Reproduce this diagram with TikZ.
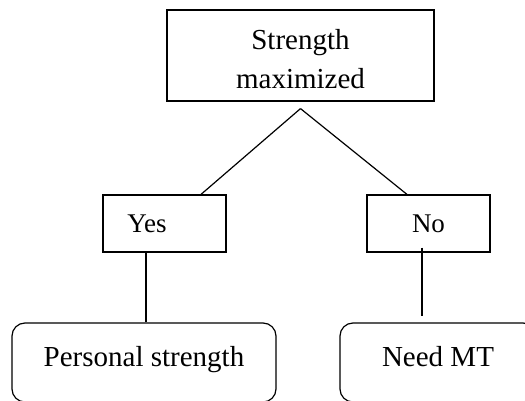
\documentclass[tikz,border=0pt]{standalone}
\usepackage{fontspec}
\setmainfont{Liberation Serif}
\usetikzlibrary{calc}
\begin{document}
\begin{tikzpicture}[x=1pt, y=-1pt, line width=1.2pt,
  box/.style={draw, rectangle, inner sep=0pt},
  rbox/.style={draw, rectangle, rounded corners=13pt, inner sep=0pt},
  bigtext/.style={font=\fontsize{29}{39}\selectfont},
  smalltext/.style={font=\fontsize{27}{32}\selectfont}]
\path[use as bounding box, clip] (0,0) rectangle (525,401);

% decision box
\node[box, minimum width=267pt, minimum height=91pt] (top) at (300.5,55.5) {};
\node[bigtext, align=center] (toplbl) at (300.5,59) {Strength\\maximized};

% answer boxes
\node[box, minimum width=123pt, minimum height=57pt] (yes) at (164.5,223.5) {};
\node[smalltext] (yeslbl) at (147,224) {Yes};
\node[box, smalltext, minimum width=123pt, minimum height=57pt] (no) at (428.5,223.5) {No};

% outcome boxes
\node[rbox, minimum width=264pt, minimum height=79pt] (ps) at (144,362.5) {};
\node[bigtext] (pslbl) at (144,360) {Personal strength};
\node[rbox, minimum width=196pt, minimum height=79pt] (mt) at (438,362.5) {};
\node[bigtext] (mtlbl) at (438,357) {Need MT};

% branches
\coordinate (apex) at ([yshift=-7pt]top.south);
\draw (apex) -- ([xshift=36.5pt]yes.north);
\draw (apex) -- ([xshift=-21.5pt]no.north);

\coordinate (yesfoot) at ([xshift=2pt]ps.north);
\draw (yesfoot) -- (yesfoot |- yes.south);

\path (no.south) ++(-6.5,-5) coordinate (notop);
\path (mt.north) ++(-16,-6) coordinate (nofoot);
\draw (notop) -- (nofoot);
\end{tikzpicture}
\end{document}
